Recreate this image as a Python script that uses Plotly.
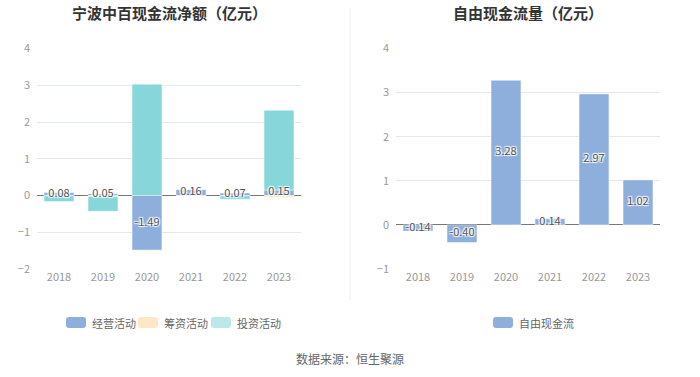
import plotly.graph_objects as go

years = ["2018", "2019", "2020", "2021", "2022", "2023"]
operating = [0.08, 0.05, -1.49, 0.16, 0.07, 0.15]
financing = [-0.01, -0.03, -0.01, -0.01, -0.01, -0.05]
investing = [-0.15, -0.40, 3.03, 0.01, -0.09, 2.17]
fcf = [-0.14, -0.40, 3.28, 0.14, 2.97, 1.02]

left_title = "宁波中百现金流净额（亿元）"
right_title = "自由现金流量（亿元）"
source_text = "数据来源：恒生聚源"
left_names = ["经营活动", "筹资活动", "投资活动"]
right_names = ["自由现金流"]

C_OP = "#8eaedc"
C_FIN = "#fde7c4"
C_INV = "#86d6da"
FONT = "Noto Sans CJK SC"
halo = "1px 1px 1px #fff, -1px -1px 1px #fff, 1px -1px 1px #fff, -1px 1px 1px #fff"
W, H = 700, 377

fig = go.Figure()
bw = 0.68
line = dict(color="rgba(255,255,255,0.6)", width=0.8)

fig.add_bar(x=years, y=operating, name=left_names[0], marker=dict(color=C_OP, line=line),
            width=bw, xaxis="x", yaxis="y")
fig.add_bar(x=years, y=financing, name=left_names[1], marker=dict(color=C_FIN, line=line),
            width=bw, xaxis="x", yaxis="y")
fig.add_bar(x=years, y=investing, name=left_names[2], marker=dict(color=C_INV, line=line),
            width=bw, xaxis="x", yaxis="y")
fig.add_scatter(x=years, y=[v / 2 for v in operating], mode="text",
                text=[f"{v:.2f}" for v in operating],
                textfont=dict(family=FONT, size=11, color="#555", shadow=halo),
                showlegend=False, hoverinfo="skip", xaxis="x", yaxis="y", cliponaxis=False)

fig.add_bar(x=years, y=fcf, name=right_names[0], marker=dict(color=C_OP, line=line),
            width=bw, xaxis="x2", yaxis="y2")
fig.add_scatter(x=years, y=[v / 2 for v in fcf], mode="text",
                text=[f"{v:.2f}" for v in fcf],
                textfont=dict(family=FONT, size=11, color="#555", shadow=halo),
                showlegend=False, hoverinfo="skip", xaxis="x2", yaxis="y2", cliponaxis=False)

ydom = [1 - 269 / H, 1 - 48.5 / H]
axis_common = dict(showline=False, ticks="", automargin=False,
                   tickfont=dict(family=FONT, size=11, color="#999"))
yax_common = dict(gridcolor="#e3e7f0", gridwidth=1, zeroline=True, zerolinecolor="#777",
                  zerolinewidth=1, tickfont=dict(family=FONT, size=11, color="#999"),
                  showline=False, ticks="", dtick=1, automargin=False, ticklabelstandoff=6)


def rrect(x0, y0, x1, y1, r=3):
    # pixel coords (top-left origin) -> paper path with rounded corners
    px = lambda v: v / W
    py = lambda v: 1 - v / H
    return (f"M {px(x0 + r)} {py(y0)} L {px(x1 - r)} {py(y0)} "
            f"Q {px(x1)} {py(y0)} {px(x1)} {py(y0 + r)} L {px(x1)} {py(y1 - r)} "
            f"Q {px(x1)} {py(y1)} {px(x1 - r)} {py(y1)} L {px(x0 + r)} {py(y1)} "
            f"Q {px(x0)} {py(y1)} {px(x0)} {py(y1 - r)} L {px(x0)} {py(y0 + r)} "
            f"Q {px(x0)} {py(y0)} {px(x0 + r)} {py(y0)} Z")


shapes = [dict(type="line", xref="paper", yref="paper", x0=0.5, x1=0.5, y0=1 - 300 / H, y1=1 - 8 / H,
               line=dict(color="#eeeeee", width=1))]
annotations = [
    dict(text=f"<b>{left_title}</b>", x=169 / W, y=1 - 12 / H, xref="paper", yref="paper",
         xanchor="center", yanchor="middle", showarrow=False,
         font=dict(family=FONT, size=15, color="#333")),
    dict(text=f"<b>{right_title}</b>", x=528 / W, y=1 - 12 / H, xref="paper", yref="paper",
         xanchor="center", yanchor="middle", showarrow=False,
         font=dict(family=FONT, size=15, color="#333")),
    dict(text=source_text, x=0.5, y=1 - 358 / H, xref="paper", yref="paper",
         xanchor="center", yanchor="middle", showarrow=False,
         font=dict(family=FONT, size=12, color="#666")),
]

legend_items = [(left_names[0], C_OP, 1.0, 66), (left_names[1], C_FIN, 1.0, 138),
                (left_names[2], C_INV, 0.55, 211), (right_names[0], C_OP, 1.0, 493)]
for name, col, op, lx in legend_items:
    shapes.append(dict(type="path", xref="paper", yref="paper", path=rrect(lx, 317, lx + 20, 328),
                       fillcolor=col, opacity=op, line=dict(width=0)))
    annotations.append(dict(text=name, x=(lx + 24) / W, y=1 - 322.5 / H, xref="paper", yref="paper",
                            xanchor="left", yanchor="middle", showarrow=False,
                            font=dict(family=FONT, size=11, color="#666")))

fig.update_layout(
    width=W, height=H,
    margin=dict(l=0, r=0, t=0, b=0, pad=0, autoexpand=False),
    paper_bgcolor="white", plot_bgcolor="white",
    barmode="relative",
    font=dict(family=FONT, color="#666"),
    showlegend=False,
    xaxis=dict(domain=[37 / W, 301 / W], anchor="y", **axis_common),
    yaxis=dict(domain=ydom, range=[-2, 4], anchor="x", **yax_common),
    xaxis2=dict(domain=[396 / W, 660 / W], anchor="y2", **axis_common),
    yaxis2=dict(domain=ydom, range=[-1, 4], anchor="x2", **yax_common),
    annotations=annotations,
    shapes=shapes,
)

fig.write_html("out.html", config={"displayModeBar": False},
               post_script="document.body.style.margin='0px';")
